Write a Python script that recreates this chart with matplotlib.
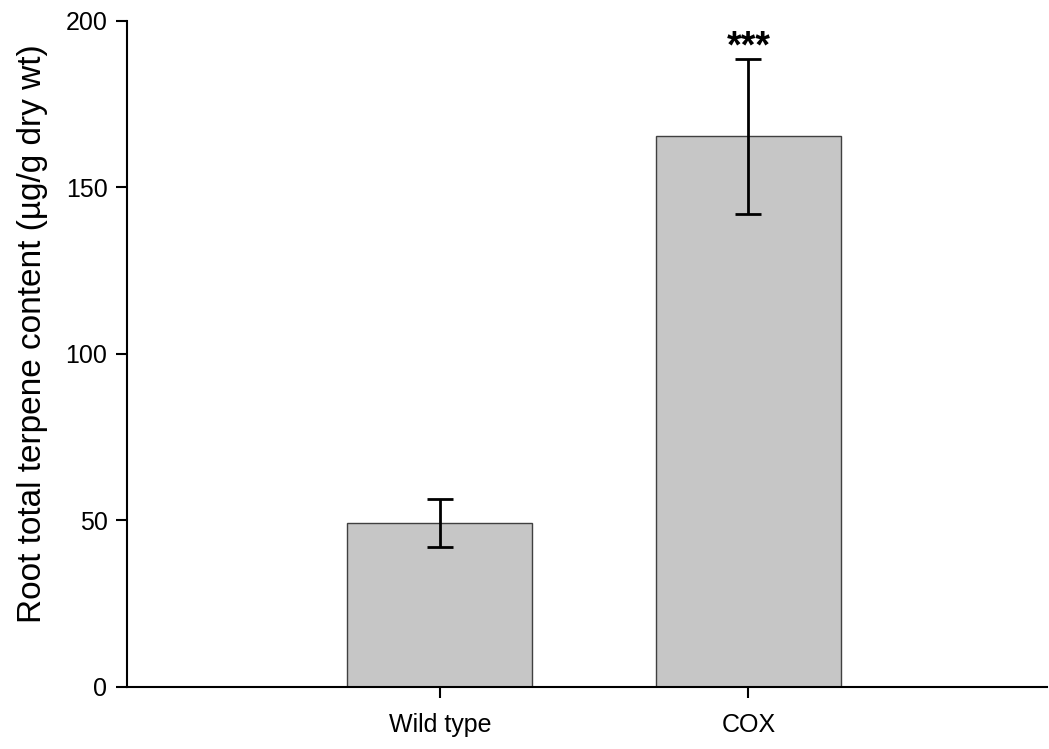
import matplotlib
matplotlib.use("Agg")
import matplotlib.pyplot as plt

categories = ["Wild type", "COX"]
means = [49.1, 165.3]
errors = [7.2, 23.2]
significance = ["", "***"]
yticks = [0, 50, 100, 150, 200]

plt.rcParams['font.family'] = ['Liberation Sans', 'DejaVu Sans']

fig = plt.figure(figsize=(10.49, 7.49), dpi=100)
ax = fig.add_axes([0.121, 0.0832, 0.877, 0.889])

x = list(range(len(categories)))
ax.bar(x, means, width=0.6, color="#c6c6c6", edgecolor="#404040", linewidth=1.0, zorder=2)
ax.errorbar(x, means, yerr=errors, fmt="none", ecolor="black", elinewidth=2.0,
            capsize=9.5, capthick=2.0, zorder=3)
for xi, m, e, s in zip(x, means, errors, significance):
    if s:
        ax.text(xi, m + e + 0.4, s, ha="center", va="baseline", fontsize=27,
                fontweight="bold")

ax.set_xlim(-1.015, 1.968)
ax.set_ylim(0, 200)
ax.set_xticks(x)
ax.set_xticklabels(categories)
ax.set_yticks(yticks)
ax.set_yticklabels([str(t) for t in yticks])

for side in ["top", "right"]:
    ax.spines[side].set_visible(False)
for side in ["left", "bottom"]:
    ax.spines[side].set_linewidth(1.5)
ax.tick_params(axis="both", direction="out", length=8, width=1.5, labelsize=18)
ax.tick_params(axis="y", pad=6)
ax.tick_params(axis="x", pad=11)
ax.set_ylabel("Root total terpene content (µg/g dry wt)", fontsize=24)
ax.yaxis.set_label_coords(-0.086, 0.53)

fig.savefig("out.png", dpi=100)
